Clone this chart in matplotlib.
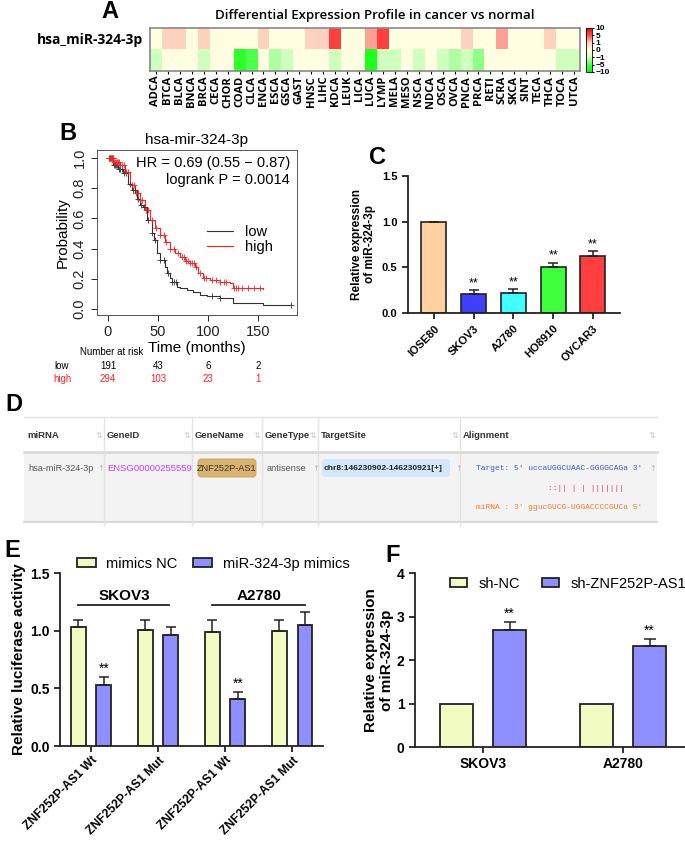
import numpy as np
import matplotlib
matplotlib.use("Agg")
import matplotlib.pyplot as plt
from matplotlib.colors import LinearSegmentedColormap, FuncNorm
from matplotlib.patches import Rectangle, FancyBboxPatch

plt.rcParams['font.family'] = ['Liberation Sans', 'DejaVu Sans']

W, H = 685, 846

# ---------------- data ----------------
# A: heatmap (cancer vs normal)
cancers = ['ADCA', 'BTCA', 'BLCA', 'BNCA', 'BRCA', 'CECA', 'CHOR', 'COAD', 'CLCA',
           'ENCA', 'ESCA', 'GSCA', 'GAST', 'HNSC', 'LIHC', 'KDCA', 'LEUK', 'LICA',
           'LUCA', 'LYMP', 'MELA', 'MESO', 'NSCA', 'NDCA', 'OSCA', 'OVCA', 'PNCA',
           'PRCA', 'RETI', 'SCRA', 'SKCA', 'SINT', 'TECA', 'THCA', 'TOCA', 'UTCA']
up_row = [0, 1, 1, 0, 1, 0, 0, 0, 0, 1, 0, 0, 0, 1, 1, 6, 0, 0,
          2.5, 6, 0, 0, 0, 0, 0, 0, 1, 0, 0, 2.5, 0, 0, 0, 1, 0, 0]
down_row = [-1, 0, 0, 0, -1, 0, 0, -7, -5, 0, -2, -1, 0, 0, 0, -1, 0, 0,
            -8, -1, -1, 0, -1, 0, -1, -2, -1, -3, 0, 0, 0, 0, 0, 0, -1, -1]
cbar_ticks = [10, 5, 1, 0, -1, -5, -10]

# B: Kaplan-Meier
low_t = [0, 5.3, 10.3, 15.3, 20.3, 23.7, 28.7, 32, 35.3, 38.7, 43.7, 46.3, 48.7, 52,
         57, 58.7, 62, 63.7, 68.7, 72, 78.7, 85.3, 92, 98.7, 112, 125, 155, 183]
low_s = [1.0, 0.954, 0.93, 0.90, 0.83, 0.79, 0.73, 0.69, 0.678, 0.589, 0.501, 0.457,
         0.369, 0.324, 0.28, 0.236, 0.203, 0.181, 0.148, 0.137, 0.126, 0.115, 0.093,
         0.086, 0.071, 0.042, 0.024, 0.024]
high_t = [0, 5.3, 12, 17, 22, 27, 32, 37, 42, 47, 52, 57, 62, 67, 72, 77, 82, 87,
          90.3, 95.3, 102, 112, 122, 125.3, 155]
high_s = [1.0, 0.976, 0.954, 0.91, 0.82, 0.766, 0.722, 0.656, 0.589, 0.534, 0.49,
          0.446, 0.40, 0.369, 0.347, 0.32, 0.307, 0.28, 0.236, 0.203, 0.192, 0.181,
          0.17, 0.137, 0.132]
low_cens = [1, 2, 3, 4, 5, 6, 7, 8, 9, 11, 12, 14, 16, 18, 22, 25, 27, 30, 33, 36,
            40, 44, 47, 52, 56, 60, 64, 66, 68, 104, 112, 183]
high_cens = [1, 2, 3, 4, 5, 6, 7, 8, 9, 10, 11, 12, 14, 16, 18, 20, 24, 26, 28, 30,
             32, 34, 38, 40, 44, 48, 52, 56, 58, 62, 66, 70, 74, 76, 78, 80, 82, 84,
             86, 88, 92, 96, 98, 104, 108, 112, 116, 118, 126, 128, 130, 134, 140,
             146, 152]
risk_times = [0, 50, 100, 150]
risk_low = [191, 43, 6, 2]
risk_high = [294, 103, 23, 1]

# C: cell lines
cells = ['IOSE80', 'SKOV3', 'A2780', 'HO8910', 'OVCAR3']
cell_expr = [1.0, 0.21, 0.22, 0.50, 0.62]
cell_err = [0.0, 0.04, 0.04, 0.05, 0.06]
cell_colors = ['#FFD1A0', '#3F3FFF', '#3FFFFF', '#3FFF3F', '#FF3F3F']
cell_sig = ['', '**', '**', '**', '**']

# E: luciferase
luc_groups = ['ZNF252P-AS1 Wt', 'ZNF252P-AS1 Mut', 'ZNF252P-AS1 Wt', 'ZNF252P-AS1 Mut']
luc_nc = [1.03, 1.01, 0.99, 1.00]
luc_nc_err = [0.06, 0.08, 0.10, 0.09]
luc_mim = [0.53, 0.96, 0.41, 1.05]
luc_mim_err = [0.07, 0.07, 0.06, 0.11]
luc_sig = ['**', '', '**', '']

# F: knockdown
kd_groups = ['SKOV3', 'A2780']
kd_nc = [1.0, 1.0]
kd_sh = [2.68, 2.32]
kd_sh_err = [0.20, 0.16]

yellow = '#F2FBC2'
violet = '#8F8FFF'


def box(l, t, r, b):
    return [l / W, 1 - b / H, (r - l) / W, (b - t) / H]


def fx(x):
    return x / W


def fy(y):
    return 1 - y / H


def bar_style(ax):
    for s in ['top', 'right']:
        ax.spines[s].set_visible(False)
    for s in ['left', 'bottom']:
        ax.spines[s].set_linewidth(1.3)
        ax.spines[s].set_color('#222222')
    ax.tick_params(width=1.3, length=4, color='#222222')


fig = plt.figure(figsize=(W / 100, H / 100), dpi=100)

# ---------------- A ----------------
fig.text(fx(110), fy(12), 'A', fontsize=17, fontweight='bold', ha='center', va='center')
fig.text(fx(375), fy(16), 'Differential Expression Profile in cancer vs normal',
         fontsize=9.5, fontweight='semibold', family='Open Sans', ha='center', va='center')
ax_a = fig.add_axes(box(150, 28, 580, 71))
cmap = LinearSegmentedColormap.from_list('gyr', [(0, '#00FF00'), (1 / 6, '#4DFF4D'),
                                                 (2 / 6, '#CFFFBE'), (3 / 6, '#FFFFE0'),
                                                 (4 / 6, '#FFD2C0'), (5 / 6, '#FF4D4D'),
                                                 (1, '#FF0000')])
bnd = [-10, -5, -1, 0, 1, 5, 10]
pos = np.linspace(0, 1, 7)
norm = FuncNorm((lambda v: np.interp(v, bnd, pos), lambda p: np.interp(p, pos, bnd)),
                vmin=-10, vmax=10)
mesh = ax_a.pcolormesh(np.array([up_row, down_row]), cmap=cmap, norm=norm)
ax_a.invert_yaxis()
ax_a.set_xticks(np.arange(len(cancers)) + 0.5)
ax_a.set_xticklabels(cancers, rotation=90, fontsize=8, fontweight='bold', family='Open Sans')
ax_a.set_yticks([0.5])
ax_a.set_yticklabels(['hsa_miR-324-3p'], fontsize=10, fontweight='bold', family='Open Sans')
ax_a.tick_params(axis='y', length=0, pad=5)
ax_a.tick_params(axis='x', length=2.5, pad=1)
for s in ax_a.spines.values():
    s.set_color('#888888')
    s.set_linewidth(1.2)
cax = fig.add_axes(box(586, 28, 592, 72))
cb = fig.colorbar(mesh, cax=cax, ticks=cbar_ticks)
cb.outline.set_linewidth(0.6)
cax.tick_params(labelsize=6, length=1.5, pad=1)
for t in cax.get_yticklabels():
    t.set_fontweight('bold')

# ---------------- B ----------------
fig.text(fx(68), fy(134), 'B', fontsize=17, fontweight='bold', ha='center', va='center')
ax_b = fig.add_axes(box(97, 150, 297, 315))
ax_b.step(low_t, low_s, where='post', color='#333333', lw=0.8)
ax_b.step(high_t, high_s, where='post', color='#FF2020', lw=0.8)
lt, ls = np.array(low_t), np.array(low_s)
ht, hs = np.array(high_t), np.array(high_s)
low_c_s = ls[np.searchsorted(lt, low_cens, side='right') - 1]
high_c_s = hs[np.searchsorted(ht, high_cens, side='right') - 1]
ax_b.plot(low_cens, low_c_s, '+', color='#333333', ms=4, mew=0.6)
ax_b.plot(high_cens, high_c_s, '+', color='#FF2020', ms=4, mew=0.6)
ax_b.set_xlim(-11, 189)
ax_b.set_ylim(-0.04, 1.053)
ax_b.set_xticks([0, 50, 100, 150])
ax_b.set_yticks([0.0, 0.2, 0.4, 0.6, 0.8, 1.0])
ax_b.set_yticklabels(['0.0', '0.2', '0.4', '0.6', '0.8', '1.0'], rotation=90, va='center')
ax_b.tick_params(labelsize=10.5, length=4, width=0.7, colors='#222222')
for s in ax_b.spines.values():
    s.set_linewidth(0.7)
    s.set_color('#555555')
ax_b.set_xlabel('Time (months)', fontsize=11, labelpad=1)
ax_b.set_ylabel('Probability', fontsize=11, labelpad=2)
ax_b.set_title('hsa-mir-324-3p', fontsize=11, pad=4)
ax_b.text(0.965, 0.92, 'HR = 0.69 (0.55 \u2212 0.87)', transform=ax_b.transAxes,
          ha='right', va='center', fontsize=10.5)
ax_b.text(0.965, 0.818, 'logrank P = 0.0014', transform=ax_b.transAxes,
          ha='right', va='center', fontsize=10.5)
ax_b.legend(['low', 'high'], loc='center left', bbox_to_anchor=(0.55, 0.456), frameon=False,
            fontsize=10.5, handlelength=1.8, handletextpad=0.8, labelspacing=0.1,
            borderpad=0, borderaxespad=0)
fig.text(fx(112), fy(352), 'Number at risk', fontsize=7, ha='center', va='center')
fig.text(fx(62), fy(366), 'low', fontsize=7, ha='center', va='center')
fig.text(fx(62), fy(379), 'high', fontsize=7, ha='center', va='center', color='#FF2020')
for t, a, b in zip(risk_times, risk_low, risk_high):
    xp = 108 + t
    fig.text(fx(xp), fy(366), str(a), fontsize=7, ha='center', va='center')
    fig.text(fx(xp), fy(379), str(b), fontsize=7, ha='center', va='center', color='#FF2020')

# ---------------- C ----------------
fig.text(fx(377), fy(157), 'C', fontsize=17, fontweight='bold', ha='center', va='center')
ax_c = fig.add_axes(box(408, 176, 620, 313))
xc = np.arange(len(cells))
ax_c.bar(xc, cell_expr, width=0.63, color=cell_colors, edgecolor='#222222', linewidth=1.2,
         yerr=[np.zeros(len(cells)), cell_err], capsize=3.5,
         error_kw=dict(elinewidth=1.1, capthick=1.1, ecolor='#222222'))
for x, v, e, s in zip(xc, cell_expr, cell_err, cell_sig):
    if s:
        ax_c.text(x, v + e + 0.01, s, ha='center', va='bottom', fontsize=9)
ax_c.set_xlim(-0.65, 4.68)
ax_c.set_ylim(0, 1.5)
ax_c.set_yticks([0.0, 0.5, 1.0, 1.5])
ax_c.set_xticks(xc)
ax_c.set_xticklabels(cells, rotation=45, ha='right', rotation_mode='anchor',
                     fontsize=8, fontweight='bold')
for t in ax_c.get_yticklabels():
    t.set_fontweight('bold')
ax_c.tick_params(labelsize=8)
bar_style(ax_c)
ax_c.set_ylabel('Relative expression\nof miR-324-3p', fontsize=8.5, fontweight='bold',
                labelpad=4)

# ---------------- D ----------------
fig.text(fx(14), fy(404), 'D', fontsize=17, fontweight='bold', ha='center', va='center')
ax_d = fig.add_axes(box(0, 395, 685, 535))
ax_d.set_xlim(0, 685)
ax_d.set_ylim(535, 395)
ax_d.axis('off')
t_left, t_right = 24, 657
col_x = [24, 104, 192, 262, 318, 460]
col_end = col_x[1:] + [t_right]
ax_d.add_patch(Rectangle((t_left, 452), t_right - t_left, 70, color='#F3F3F3', lw=0))
ax_d.plot([t_left, t_right], [417, 417], color='#E2E2E2', lw=1)
ax_d.plot([t_left, t_right], [452, 452], color='#DADADA', lw=2)
ax_d.plot([t_left, t_right], [522, 522], color='#DADADA', lw=1.5)
for x in col_x[1:]:
    ax_d.plot([x, x], [417, 526], color='#E2E2E2', lw=1)
headers = ['miRNA', 'GeneID', 'GeneName', 'GeneType', 'TargetSite', 'Alignment']
for x0, x1, h in zip(col_x, col_end, headers):
    ax_d.text(x0 + 3, 435, h, fontsize=6.8, fontweight='bold', color='#333333', va='center')
    ax_d.text(x1 - 5, 435, '\u21c5', fontsize=6, color='#C8C8C8', ha='center', va='center',
              family='DejaVu Sans')
ax_d.text(28, 468, 'hsa-miR-324-3p', fontsize=6.6, color='#555555', va='center')
ax_d.text(97, 468, '\u2191', fontsize=6, family='DejaVu Sans', color='#BBBBBB', va='center')
clip = Rectangle((104, 452), 86, 70, transform=ax_d.transData, visible=False)
ax_d.add_patch(clip)
ens = ax_d.text(107, 468, 'ENSG00000255559', fontsize=6.8, color='#C340EE', va='center')
ens.set_clip_path(clip)
ax_d.add_patch(FancyBboxPatch((198, 459), 58, 18, boxstyle='round,pad=0,rounding_size=3',
                              fc='#D9B36E', ec='#C9A35E', lw=0.6))
ax_d.text(227, 468, 'ZNF252P-AS1', fontsize=6.6, color='#333333', ha='center', va='center')
ax_d.text(267, 468, 'antisense', fontsize=6.6, color='#555555', va='center')
ax_d.text(312, 468, '\u2191', fontsize=6, family='DejaVu Sans', color='#BBBBBB', va='center')
ax_d.add_patch(FancyBboxPatch((322, 459), 128, 18, boxstyle='round,pad=0,rounding_size=3',
                              fc='#D3E8FA', ec='none'))
ax_d.text(324, 468, 'chr8:146230902-146230921[+]', fontsize=6, fontweight='bold',
          color='#222222', va='center')
ax_d.text(455, 468, '\u2191', fontsize=6, family='DejaVu Sans', color='#BBBBBB', va='center')
mono = ['Liberation Mono', 'DejaVu Sans Mono']
ax_d.text(476, 468, "Target: 5' uccaUGGCUAAC-GGGGCAGa 3'", fontsize=5.7, family=mono,
          color='#3A55E6', va='center')
ax_d.text(548, 488, '::|| | | |||||||', fontsize=5.7, family=mono, color='#E0306A',
          va='center')
ax_d.text(476, 507, "miRNA : 3' ggucGUCG-UGGACCCCGUCa 5'", fontsize=5.7, family=mono,
          color='#F07A30', va='center')
ax_d.text(649, 468, '\u2191', fontsize=6, family='DejaVu Sans', color='#BBBBBB', va='center')

# ---------------- E ----------------
fig.text(fx(12), fy(550), 'E', fontsize=17, fontweight='bold', ha='center', va='center')
ax_e = fig.add_axes(box(60, 573, 323, 746))
xe = np.arange(len(luc_groups))
off, bw = 0.19, 0.22
b1 = ax_e.bar(xe - off, luc_nc, width=bw, color=yellow, edgecolor='#222222', linewidth=1.3,
              yerr=[np.zeros(4), luc_nc_err], capsize=3.5,
              error_kw=dict(elinewidth=1.1, capthick=1.1, ecolor='#222222'))
b2 = ax_e.bar(xe + off, luc_mim, width=bw, color=violet, edgecolor='#222222', linewidth=1.3,
              yerr=[np.zeros(4), luc_mim_err], capsize=3.5,
              error_kw=dict(elinewidth=1.1, capthick=1.1, ecolor='#222222'))
for x, v, e, s in zip(xe, luc_mim, luc_mim_err, luc_sig):
    if s:
        ax_e.text(x + off, v + e + 0.005, s, ha='center', va='bottom', fontsize=10)
ax_e.plot([-0.19, 1.17], [1.22, 1.22], color='#222222', lw=1.3)
ax_e.plot([1.81, 3.19], [1.22, 1.22], color='#222222', lw=1.3)
ax_e.text(0.5, 1.24, 'SKOV3', ha='center', va='bottom', fontsize=11, fontweight='bold')
ax_e.text(2.5, 1.24, 'A2780', ha='center', va='bottom', fontsize=11, fontweight='bold')
ax_e.set_xlim(-0.463, 3.46)
ax_e.set_ylim(0, 1.5)
ax_e.set_yticks([0.0, 0.5, 1.0, 1.5])
ax_e.set_xticks(xe)
ax_e.set_xticklabels(luc_groups, rotation=45, ha='right', rotation_mode='anchor',
                     fontsize=8.7, fontweight='bold')
ax_e.tick_params(axis='y', labelsize=10)
ax_e.tick_params(axis='x', pad=2)
for t in ax_e.get_yticklabels():
    t.set_fontweight('bold')
bar_style(ax_e)
ax_e.set_ylabel('Relative luciferase activity', fontsize=11, fontweight='bold', labelpad=3)
ax_e.legend([b1, b2], ['mimics NC', 'miR-324-3p mimics'], loc='center left',
            bbox_to_anchor=(fx(77), fy(564)), bbox_transform=fig.transFigure, ncol=2,
            frameon=False, fontsize=10.5, handlelength=1.3, handleheight=0.55,
            handletextpad=0.7, columnspacing=1.1, borderpad=0, borderaxespad=0)

# ---------------- F ----------------
fig.text(fx(393), fy(555), 'F', fontsize=17, fontweight='bold', ha='center', va='center')
ax_f = fig.add_axes(box(415, 573, 685, 747))
xf = np.arange(len(kd_groups))
off_f, bw_f = 0.19, 0.236
f1 = ax_f.bar(xf - off_f, kd_nc, width=bw_f, color=yellow, edgecolor='#222222',
              linewidth=1.3)
f2 = ax_f.bar(xf + off_f, kd_sh, width=bw_f, color=violet, edgecolor='#222222', linewidth=1.3,
              yerr=[np.zeros(2), kd_sh_err], capsize=4,
              error_kw=dict(elinewidth=1.1, capthick=1.1, ecolor='#222222'))
for x, v, e in zip(xf, kd_sh, kd_sh_err):
    ax_f.text(x + off_f, v + e + 0.02, '**', ha='center', va='bottom', fontsize=10)
ax_f.set_xlim(-0.486, 1.443)
ax_f.set_ylim(0, 4)
ax_f.set_yticks([0, 1, 2, 3, 4])
ax_f.set_xticks(xf)
ax_f.set_xticklabels(kd_groups, fontsize=10, fontweight='bold')
ax_f.tick_params(labelsize=10)
for t in ax_f.get_yticklabels():
    t.set_fontweight('bold')
bar_style(ax_f)
ax_f.set_ylabel('Relative expression\nof miR-324-3p', fontsize=11, fontweight='bold',
                labelpad=2)
ax_f.legend([f1, f2], ['sh-NC', 'sh-ZNF252P-AS1'], loc='center left',
            bbox_to_anchor=(fx(450), fy(584)), bbox_transform=fig.transFigure, ncol=2,
            frameon=False, fontsize=10.5, handlelength=1.15, handleheight=0.55,
            handletextpad=0.8, columnspacing=1.5, borderpad=0, borderaxespad=0)

fig.savefig('out.png', dpi=100)
